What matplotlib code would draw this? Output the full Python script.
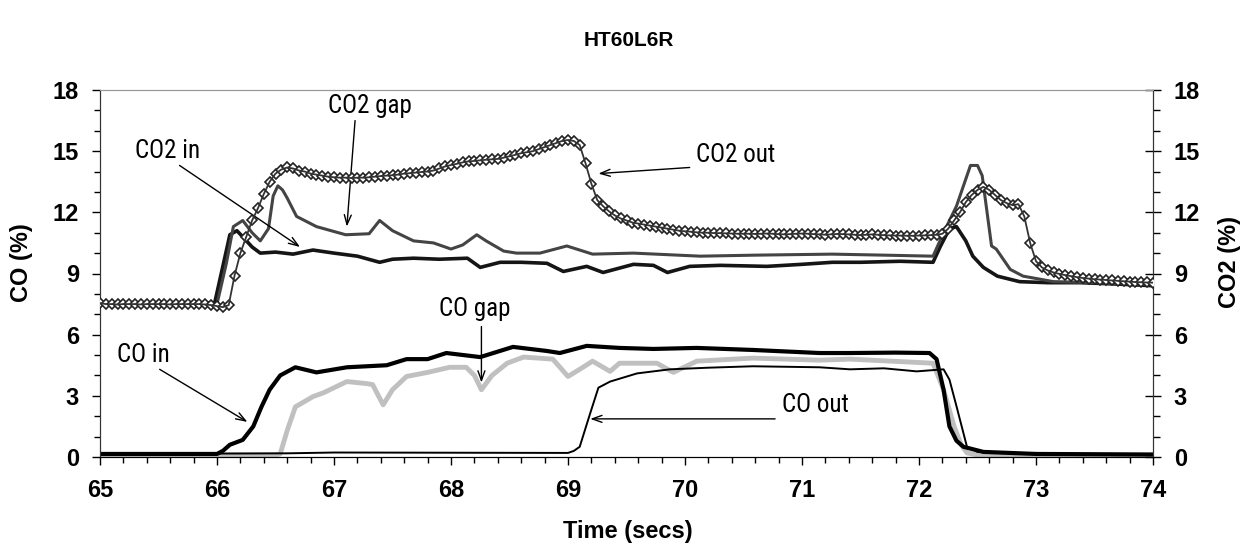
import numpy as np
import matplotlib
matplotlib.use("Agg")
import matplotlib.pyplot as plt
from matplotlib.ticker import MultipleLocator

# CO trace values (left axis, %)
co_in_t = [65.0, 66.0, 66.05, 66.11, 66.22, 66.31, 66.38, 66.45, 66.54, 66.67, 66.85, 67.11,
           67.45, 67.62, 67.8, 67.96, 68.25, 68.53, 68.82, 68.93, 69.16, 69.44, 69.73, 70.1,
           70.58, 71.15, 71.41, 71.8, 72.09, 72.15, 72.21, 72.26, 72.32, 72.38, 72.55, 73.0, 74.0]
co_in = [0.15, 0.15, 0.3, 0.6, 0.84, 1.5, 2.46, 3.3, 4.0, 4.4, 4.15, 4.4,
         4.5, 4.8, 4.8, 5.1, 4.9, 5.4, 5.2, 5.1, 5.45, 5.35, 5.3, 5.35,
         5.25, 5.1, 5.1, 5.12, 5.1, 4.8, 3.3, 1.5, 0.8, 0.5, 0.25, 0.15, 0.12]

co_gap_t = [65.0, 66.5, 66.54, 66.6, 66.67, 66.82, 66.91, 67.11, 67.28, 67.33, 67.42, 67.5,
            67.62, 67.8, 67.99, 68.13, 68.2, 68.26, 68.35, 68.48, 68.62, 68.87, 69.0, 69.1,
            69.21, 69.36, 69.44, 69.59, 69.76, 69.9, 70.1, 70.58, 71.15, 71.41, 72.12, 72.21,
            72.3, 72.36, 72.41, 72.5, 74.0]
co_gap = [0.1, 0.1, 0.15, 1.3, 2.46, 2.96, 3.15, 3.7, 3.6, 3.55, 2.56, 3.3,
          3.95, 4.15, 4.4, 4.4, 4.0, 3.3, 4.0, 4.6, 4.9, 4.8, 3.95, 4.3,
          4.7, 4.2, 4.6, 4.6, 4.6, 4.15, 4.7, 4.85, 4.75, 4.8, 4.6, 3.3,
          1.5, 0.6, 0.2, 0.1, 0.1]

co_out_t = [65.0, 66.6, 67.0, 69.0, 69.05, 69.1, 69.19, 69.26, 69.36, 69.59, 69.87, 70.2,
            70.58, 71.15, 71.41, 71.7, 71.98, 72.21, 72.26, 72.32, 72.41, 72.5, 73.0, 74.0]
co_out = [0.15, 0.18, 0.22, 0.2, 0.3, 0.5, 2.15, 3.4, 3.7, 4.1, 4.3, 4.38,
          4.45, 4.4, 4.3, 4.35, 4.2, 4.3, 3.8, 2.5, 0.5, 0.25, 0.15, 0.12]

# CO2 traces (right axis, %)
co2_in_t = [65.0, 65.98, 66.05, 66.11, 66.17, 66.22, 66.3, 66.37, 66.5, 66.65, 66.82, 67.0,
            67.2, 67.39, 67.5, 67.68, 67.9, 68.14, 68.25, 68.42, 68.6, 68.82, 68.96, 69.16,
            69.3, 69.56, 69.73, 69.85, 70.04, 70.3, 70.7, 71.0, 71.26, 71.5, 71.84, 72.12,
            72.18, 72.26, 72.32, 72.4, 72.46, 72.55, 72.67, 72.86, 73.1, 73.38, 73.7, 74.0]
co2_in = [7.5, 7.55, 9.35, 10.9, 11.1, 10.8, 10.3, 10.0, 10.05, 9.95, 10.15, 10.0,
          9.85, 9.55, 9.7, 9.75, 9.7, 9.75, 9.3, 9.55, 9.55, 9.5, 9.1, 9.35,
          9.05, 9.45, 9.4, 9.05, 9.35, 9.4, 9.35, 9.45, 9.55, 9.55, 9.6, 9.55,
          10.3, 11.2, 11.3, 10.6, 9.85, 9.3, 8.87, 8.6, 8.55, 8.55, 8.48, 8.4]

co2_gap_t = [65.0, 66.0, 66.08, 66.14, 66.22, 66.3, 66.37, 66.44, 66.48, 66.52, 66.56, 66.6,
             66.68, 66.85, 67.1, 67.3, 67.39, 67.5, 67.68, 67.85, 68.0, 68.1, 68.22, 68.3,
             68.45, 68.56, 68.76, 68.99, 69.21, 69.56, 70.13, 70.6, 71.26, 71.7, 72.12, 72.21,
             72.32, 72.44, 72.5, 72.54, 72.62, 72.66, 72.78, 72.89, 73.15, 73.5, 74.0]
co2_gap = [7.5, 7.5, 9.5, 11.3, 11.6, 11.0, 10.6, 11.2, 12.8, 13.3, 13.1, 12.7,
           11.8, 11.3, 10.9, 10.95, 11.6, 11.1, 10.6, 10.5, 10.2, 10.4, 10.9, 10.6,
           10.1, 10.0, 10.0, 10.35, 9.95, 10.0, 9.85, 9.9, 9.95, 9.9, 9.85, 11.0,
           12.3, 14.3, 14.3, 13.8, 10.35, 10.2, 9.2, 8.87, 8.6, 8.55, 8.45]

# CO2 out, logged every 0.05 s from 65.00 s
co2_out = [7.55, 7.5, 7.5, 7.48, 7.5, 7.5, 7.5, 7.48, 7.5, 7.5, 7.5, 7.5, 7.48, 7.5, 7.5,
           7.5, 7.5, 7.5, 7.48, 7.45, 7.4, 7.35,
           7.45, 8.9, 10.0, 10.8, 11.6, 12.2, 12.9, 13.5, 13.9, 14.1, 14.2, 14.15, 14.05, 14.0,
           13.9, 13.85, 13.8, 13.75, 13.72,
           13.7, 13.7, 13.68, 13.7, 13.7, 13.72, 13.75, 13.78, 13.8, 13.82, 13.85, 13.9, 13.92,
           13.95, 13.98, 14.0, 14.05, 14.15, 14.25, 14.32,
           14.38, 14.45, 14.5, 14.52, 14.55, 14.58, 14.6, 14.62, 14.68, 14.75, 14.82, 14.9, 14.95,
           15.0, 15.1, 15.2, 15.3, 15.4, 15.5, 15.55,
           15.5, 15.3, 14.4, 13.4, 12.6, 12.3, 12.05, 11.85, 11.7, 11.6, 11.5, 11.45, 11.4,
           11.35, 11.3, 11.25, 11.2, 11.15, 11.1, 11.07,
           11.05, 11.02, 11.0, 11.0, 10.98, 10.98, 10.97, 10.96, 10.95, 10.95,
           10.95, 10.94, 10.95, 10.96, 10.95, 10.93, 10.92, 10.93, 10.95, 10.96, 10.95, 10.93,
           10.92, 10.9, 10.92, 10.94, 10.93, 10.92, 10.9, 10.88, 10.9, 10.92, 10.9, 10.88,
           10.87, 10.86, 10.86, 10.85, 10.85, 10.86, 10.87, 10.88, 10.9,
           10.95, 11.2, 11.6, 12.0, 12.5, 12.85, 13.1, 13.25, 13.1, 12.85, 12.6, 12.45, 12.35,
           12.4, 11.8, 10.5, 9.6, 9.3, 9.15, 9.05, 8.98, 8.92, 8.87, 8.82, 8.78, 8.75, 8.72,
           8.7, 8.68, 8.66, 8.64, 8.62, 8.6, 8.58, 8.57, 8.56, 8.55]
co2_out_t = 65.0 + 0.05 * np.arange(len(co2_out))

narrow = ['Liberation Sans Narrow', 'Roboto Condensed', 'Liberation Sans', 'DejaVu Sans']
plt.rcParams['font.family'] = ['Liberation Sans', 'DejaVu Sans']

fig = plt.figure(figsize=(12.58, 5.58), dpi=100)
ax = fig.add_axes([100 / 1258, 1 - 457 / 558, 1053 / 1258, 367 / 558])
ax2 = ax.twinx()

ax.plot(co_gap_t, co_gap, color='#c0c0c0', lw=3.5, zorder=2)
ax.plot(co_in_t, co_in, color='black', lw=3, zorder=3)
ax.plot(co_out_t, co_out, color='black', lw=1.4, zorder=4)

ax2.plot(co2_in_t, co2_in, color='#151515', lw=2.6, zorder=2)
ax2.plot(co2_gap_t, co2_gap, color='#444444', lw=2.2, zorder=3)
ax2.plot(co2_out_t, co2_out, ls='none', marker='D', ms=5.5,
         mfc='white', mec='#222222', mew=1.2, zorder=4)
ax2.plot(co2_out_t, co2_out, color='#333333', lw=1.3, zorder=5)

for a in (ax, ax2):
    a.set_xlim(65, 74)
    a.set_ylim(0, 18)
    a.yaxis.set_major_locator(MultipleLocator(3))
    a.yaxis.set_minor_locator(MultipleLocator(1))
ax.xaxis.set_major_locator(MultipleLocator(1))
ax.xaxis.set_minor_locator(MultipleLocator(0.2))

bold = dict(fontsize=17, fontweight='bold')
ax.tick_params(axis='x', which='major', direction='out', length=6, width=1, pad=10, labelsize=17)
ax.tick_params(axis='x', which='minor', direction='out', length=4, width=1)
ax.tick_params(axis='y', which='major', direction='out', length=6, width=1, pad=9, labelsize=17)
ax.tick_params(axis='y', which='minor', direction='out', length=4, width=1)
ax2.tick_params(axis='y', which='major', direction='inout', length=12, width=1, pad=9, labelsize=17)
ax2.tick_params(axis='y', which='minor', direction='out', length=5, width=1)
for lab in ax.get_xticklabels() + ax.get_yticklabels() + ax2.get_yticklabels():
    lab.set_fontweight('bold')

for a in (ax, ax2):
    a.spines['left'].set_color('#333333')
    a.spines['right'].set_color('#333333')
    a.spines['top'].set_color('#999999')
    a.spines['bottom'].set_color('black')

ax.set_xlabel('Time (secs)', **bold)
ax.xaxis.set_label_coords(0.501, -0.172)
ax.set_ylabel('CO (%)', **bold)
ax.yaxis.set_label_coords(-0.064, 0.53)
ax2.set_ylabel('CO2 (%)', rotation=90, **bold)
ax2.yaxis.set_label_coords(1.062, 0.53)
fig.suptitle('HT60L6R', fontsize=15, fontweight='bold', y=0.928, va='center')

arrow = dict(arrowstyle='->,head_length=0.7,head_width=0.25', color='black', lw=1,
             shrinkA=0, shrinkB=0)
labels = [
    ('CO2 in', (65.58, 15.0), (65.68, 14.3), (66.71, 10.3)),
    ('CO2 gap', (67.31, 17.2), (67.18, 16.5), (67.11, 11.3)),
    ('CO2 out', (70.43, 14.8), (70.04, 14.2), (69.26, 13.9)),
    ('CO gap', (68.2, 7.25), (68.26, 6.4), (68.26, 3.65)),
    ('CO in', (65.37, 5.0), (65.51, 4.3), (66.26, 1.72)),
]
for txt, pos, start, end in labels:
    ax2.text(pos[0], pos[1], txt, ha='center', va='center', fontsize=18, family=narrow)
    ax2.annotate('', xy=end, xytext=start, arrowprops=arrow)
ax2.text(70.83, 2.56, 'CO out', ha='left', va='center', fontsize=18, family=narrow)
ax2.annotate('', xy=(69.19, 1.87), xytext=(70.77, 1.87), arrowprops=arrow)

fig.savefig('out.png', dpi=100)
